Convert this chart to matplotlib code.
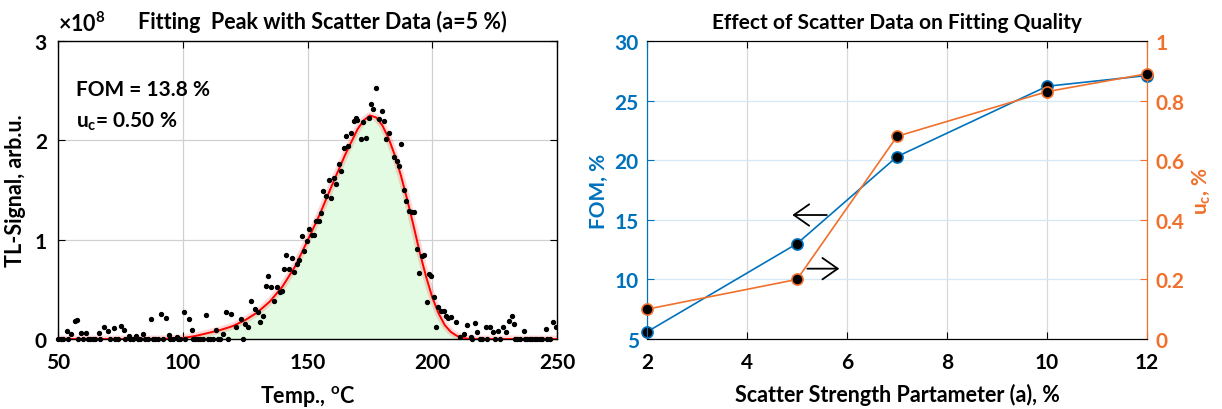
import numpy as np
import matplotlib
matplotlib.use("Agg")
import matplotlib.pyplot as plt

plt.rcParams['font.family'] = ['Lato', 'DejaVu Sans']
plt.rcParams['font.weight'] = 'bold'
plt.rcParams['mathtext.default'] = 'regular'

# --- left panel: scattered TL glow peak (signal in units of 1e8) ---
scatter_T = [53.4, 55.3, 56.7, 57.7, 59.4, 61.4, 66.4, 68.3, 70.0, 72.3, 75.3, 76.5, 78.3,
             81.2, 84.2, 87.2, 91.2, 93.4, 94.6, 97.6, 100.3, 102.5, 103.5, 109.5, 113.2,
             116.2, 117.4, 119.4, 121.4, 123.3, 125.1, 126.3, 127.3, 128.8, 130.3, 131.0,
             132.2, 133.3, 134.3, 135.2, 136.7, 137.7, 138.8, 139.7, 140.7, 141.4, 142.6,
             143.7, 144.4, 145.9, 146.7, 147.7, 148.6, 149.6, 150.7, 151.6, 152.6, 153.6,
             154.5, 155.6, 156.3, 157.4, 158.6, 159.3, 160.5, 161.5, 162.6, 163.5, 164.5,
             165.5, 166.4, 167.5, 168.5, 169.4, 170.0, 171.5, 172.4, 173.4, 174.6, 175.6,
             176.4, 177.6, 178.6, 179.7, 180.6, 181.6, 182.8, 184.6, 185.8, 186.5, 187.5,
             188.6, 189.5, 190.5, 191.7, 192.8, 193.8, 194.7, 195.7, 196.5, 197.7, 198.7,
             199.4, 200.6, 201.6, 202.4, 203.6, 204.6, 205.4, 206.4, 207.6, 209.6, 211.3,
             212.8, 214.0, 215.5, 217.0, 218.0, 221.7, 223.2, 224.4, 226.2, 228.4, 229.4,
             230.6, 231.8, 232.8, 236.6, 245.5, 248.5, 249.5]
scatter_S = [0.08, 0.05, 0.18, 0.19, 0.06, 0.06, 0.06, 0.12, 0.08, 0.11, 0.13, 0.09, 0.03,
             0.03, 0.05, 0.20, 0.25, 0.21, 0.04, 0.02, 0.27, 0.20, 0.09, 0.24, 0.09,
             0.05, 0.27, 0.25, 0.12, 0.20, 0.15, 0.12, 0.38, 0.30, 0.27, 0.17,
             0.23, 0.53, 0.63, 0.52, 0.38, 0.52, 0.47, 0.48, 0.70, 0.85, 0.70,
             0.82, 0.67, 0.75, 0.80, 1.04, 0.89, 0.99, 1.11, 1.05, 1.05, 1.19,
             1.19, 1.27, 1.49, 1.44, 1.60, 1.42, 1.62, 1.56, 1.76, 1.69, 1.92,
             2.04, 1.94, 2.07, 2.19, 2.22, 2.20, 2.01, 2.18, 2.02, 2.22, 2.37,
             2.32, 2.53, 2.21, 2.29, 2.19, 2.01, 2.07, 1.83, 1.79, 1.74, 1.96,
             1.50, 1.39, 1.29, 1.28, 1.28, 0.91, 0.66, 0.84, 0.85, 0.37, 0.65,
             0.63, 0.42, 0.12, 0.32, 0.28, 0.28, 0.23, 0.21, 0.22, 0.17, 0.02,
             0.05, 0.14, 0.02, 0.16, 0.07, 0.12, 0.12, 0.07, 0.08, 0.12, 0.07,
             0.18, 0.23, 0.15, 0.08, 0.10, 0.17, 0.12]
# points sitting on the baseline
zero_T = [50, 51, 52, 54, 58, 60, 62, 63, 64, 65, 67, 71, 73, 74, 77, 79, 80, 82, 83, 85,
          86, 88, 89, 90, 92, 95, 96, 98, 99, 101, 104, 105, 106, 107, 108, 110, 111, 112,
          114, 115, 118, 124, 216, 219, 220, 222, 225, 227, 233, 234, 235, 237, 238, 239,
          240, 241, 242, 243, 244, 246, 247]

# fitted peak
fit_T = [50, 90, 95, 100, 105, 110, 115, 120, 125, 130, 135, 140, 145, 150, 155, 160, 165,
         170, 172.5, 175, 177.5, 180, 182.5, 185, 187.5, 190, 192.5, 195, 197.5, 200, 202.5,
         205, 207.5, 210, 212.5, 215, 250]
fit_S = [0.0, 0.0, 0.005, 0.01, 0.03, 0.06, 0.09, 0.13, 0.19, 0.27, 0.38, 0.53, 0.73, 0.99,
         1.26, 1.56, 1.85, 2.11, 2.20, 2.25, 2.23, 2.15, 2.02, 1.85, 1.64, 1.40, 1.14, 0.87,
         0.63, 0.42, 0.26, 0.14, 0.07, 0.03, 0.01, 0.0, 0.0]

# --- right panel ---
a_vals = [2, 5, 7, 10, 12]
fom = [5.6, 13.0, 20.3, 26.2, 27.1]
uc = [0.10, 0.20, 0.68, 0.83, 0.89]

blue = '#0072BD'
orange = '#F0702C'

fig = plt.figure(figsize=(12.22, 4.10), dpi=100)

ax1 = fig.add_axes([0.0475, 0.1707, 0.4083, 0.727])
ax1.fill_between(fit_T, fit_S, color='#e2fbe2', zorder=1)
ax1.plot(fit_T, fit_S, color='red', alpha=0.15, lw=5, zorder=2)
ax1.plot(fit_T, fit_S, color='red', lw=1.4, zorder=3)
ax1.scatter(scatter_T, scatter_S, s=8, color='black', zorder=4)
ax1.scatter(zero_T, [0] * len(zero_T), s=8, color='black', zorder=4, clip_on=False)
ax1.set_xlim(50, 250)
ax1.set_ylim(0, 3)
ax1.set_xticks([50, 100, 150, 200, 250])
ax1.set_yticks([0, 1, 2, 3])
ax1.grid(True, color='#d0d0d0', lw=0.9)
ax1.set_axisbelow(True)
ax1.tick_params(direction='in', top=True, right=True, labelsize=15, length=5)
ax1.tick_params(axis='x', pad=9)
ax1.tick_params(axis='y', pad=8)
ax1.set_xlabel('Temp., $^{o}$C', fontsize=15.5, fontweight='bold', labelpad=8)
ax1.set_ylabel('TL-Signal, arb.u.', fontsize=15.5, fontweight='bold', labelpad=6)
ax1.set_title('Fitting  Peak with Scatter Data (a=5 %)', fontsize=15.5, fontweight='bold',
              pad=9, x=0.53)
ax1.text(0.0, 1.02, r'$\times$10$^{8}$', transform=ax1.transAxes, fontsize=15.5,
         fontweight='bold', ha='left', va='bottom')
ax1.text(57, 2.52, 'FOM = 13.8 %', fontsize=15, fontweight='bold', va='center')
ax1.text(57, 2.2, 'u$_c$= 0.50 %', fontsize=15, fontweight='bold', va='center')
for s in ax1.spines.values():
    s.set_linewidth(1.0)

ax2 = fig.add_axes([0.5295, 0.1707, 0.4092, 0.727])
ax3 = ax2.twinx()
ax2.plot(a_vals, fom, color=blue, lw=1.2, marker='o', ms=8, mfc='black', mec=blue, mew=1.2,
         zorder=3, clip_on=False)
ax3.plot(a_vals, uc, color=orange, lw=1.2, marker='o', ms=8, mfc='black', mec=orange, mew=1.2,
         zorder=3, clip_on=False)
ax2.set_xlim(2, 12)
ax2.set_ylim(5, 30)
ax3.set_ylim(0, 1)
ax2.set_xticks([2, 4, 6, 8, 10, 12])
ax2.set_yticks([5, 10, 15, 20, 25, 30])
ax3.set_yticks([0, 0.2, 0.4, 0.6, 0.8, 1])
ax3.set_yticklabels(['0', '0.2', '0.4', '0.6', '0.8', '1'])
ax2.xaxis.grid(True, color='#d8d8d8', lw=0.9)
ax2.yaxis.grid(True, color='#d6e8f5', lw=0.9)
ax2.set_axisbelow(True)
ax2.tick_params(axis='x', direction='in', top=True, labelsize=15, length=5, pad=9)
ax2.tick_params(axis='y', direction='in', colors=blue, labelsize=15, length=5, pad=6)
ax3.tick_params(axis='y', direction='in', colors=orange, labelsize=15, length=5, pad=6)
ax2.spines['left'].set_color(blue)
ax3.spines['left'].set_color(blue)
ax3.spines['right'].set_color(orange)
ax2.spines['right'].set_color(orange)
ax2.set_xlabel('Scatter Strength Partameter (a), %', fontsize=15.5, fontweight='bold', labelpad=8)
ax2.set_ylabel('FOM, %', fontsize=15, fontweight='bold', color=blue)
ax3.set_ylabel('u$_c$, %', fontsize=15, fontweight='bold', color=orange)
ax2.set_title('Effect of Scatter Data on Fitting Quality', fontsize=15, fontweight='bold', pad=9)

arrow_style = dict(arrowstyle='->,head_length=0.5,head_width=0.35', color='black', lw=1.3,
                   mutation_scale=22)
ax2.annotate('', xy=(4.85, 15.4), xytext=(5.65, 15.4), arrowprops=arrow_style)
ax2.annotate('', xy=(5.9, 10.9), xytext=(5.15, 10.9), arrowprops=arrow_style)

fig.savefig('out.png', dpi=100)
